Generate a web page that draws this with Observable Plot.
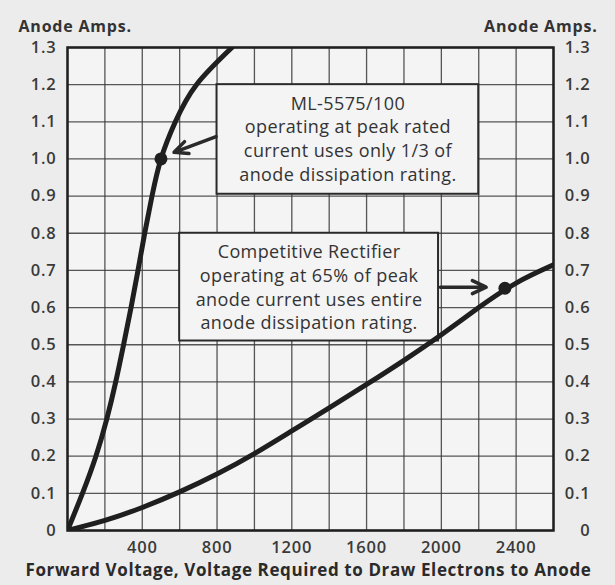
<!DOCTYPE html>
<html>
<head>
<meta charset="utf-8">
<script src="https://cdn.jsdelivr.net/npm/d3@7"></script>
<script src="https://cdn.jsdelivr.net/npm/@observablehq/plot@0.6"></script>
<style>
  html, body { margin: 0; padding: 0; background: #ececec; }
  svg text { letter-spacing: 0.8px; }
  svg .note text { letter-spacing: 0.4px; }
  svg .xtitle text { letter-spacing: 0.6px; }
</style>
</head>
<body>
<div id="chart"></div>
<script>
// ---- data ----
const mlVolts = [0, 80, 152, 210, 258, 300, 340, 377, 413, 452, 500, 577, 690, 880];
const mlAmps  = [0, 0.1, 0.2, 0.3, 0.4, 0.5, 0.6, 0.7, 0.8, 0.9, 1.0, 1.1, 1.2, 1.3];
const compVolts = [0, 200, 400, 600, 800, 1000, 1200, 1400, 1600, 1800, 2000, 2200, 2400, 2600];
const compAmps  = [0, 0.027, 0.062, 0.104, 0.152, 0.207, 0.268, 0.33, 0.393, 0.458, 0.527, 0.6, 0.666, 0.715];
const markerVolts = [500, 2340];
const markerAmps  = [1.0, 0.652];
const xTicks = [400, 800, 1200, 1600, 2000, 2400];
const xGrid = [0, 200, 400, 600, 800, 1000, 1200, 1400, 1600, 1800, 2000, 2200, 2400, 2600];
const yTicks = [0, 0.1, 0.2, 0.3, 0.4, 0.5, 0.6, 0.7, 0.8, 0.9, 1.0, 1.1, 1.2, 1.3];
const axisTitle = "Anode Amps.";
const xTitle = "Forward Voltage, Voltage Required to Draw Electrons to Anode";
const noteText = [
  "ML-5575/100\noperating at peak rated\ncurrent uses only 1/3 of\nanode dissipation rating.",
  "Competitive Rectifier\noperating at 65% of peak\nanode current uses entire\nanode dissipation rating."
];

// ---- derived tables ----
const ml = mlVolts.map((v, i) => ({v, a: mlAmps[i]}));
const comp = compVolts.map((v, i) => ({v, a: compAmps[i]}));
const markers = markerVolts.map((v, i) => ({v, a: markerAmps[i]}));
const boxes = [
  {x1: 800, x2: 2200, y1: 0.905, y2: 1.2, text: noteText[0]},
  {x1: 600, x2: 1985, y1: 0.51, y2: 0.8, text: noteText[1]}
];
const arrows = [
  {x1: 795, y1: 1.06, x2: 570, y2: 1.018},
  {x1: 1995, y1: 0.655, x2: 2240, y2: 0.655}
];

const fmt = d => d === 0 ? "0" : d.toFixed(1);
const ink = "#1f1f1f";
const font = "'Open Sans', 'DejaVu Sans', sans-serif";

const chart = Plot.plot({
  width: 615,
  height: 585,
  marginLeft: 67,
  marginRight: 62,
  marginTop: 47,
  marginBottom: 55,
  x: {domain: [0, 2600]},
  y: {domain: [0, 1.3]},
  style: {background: "#ececec", fontFamily: font, color: "#333"},
  marks: [
    Plot.frame({fill: "#f4f4f4", stroke: "none"}),
    Plot.gridX(xGrid, {stroke: "#3a3a3a", strokeOpacity: 0.85, strokeWidth: 1.3}),
    Plot.gridY(yTicks, {stroke: "#3a3a3a", strokeOpacity: 0.85, strokeWidth: 1.3}),
    Plot.rect(boxes, {x1: "x1", x2: "x2", y1: "y1", y2: "y2", fill: "#f4f4f4", stroke: "#2a2a2a", strokeWidth: 2}),
    Plot.text(boxes, {x: d => (d.x1 + d.x2) / 2, y: "y2", text: "text", lineAnchor: "top", dy: 8,
      lineHeight: 1.32, fontSize: 18, fill: "#333", className: "note"}),
    Plot.line(ml, {x: "v", y: "a", curve: "natural", stroke: ink, strokeWidth: 5, clip: true}),
    Plot.line(comp, {x: "v", y: "a", curve: "natural", stroke: ink, strokeWidth: 5, clip: true}),
    Plot.dot(markers, {x: "v", y: "a", r: 6.5, fill: ink}),
    Plot.arrow(arrows, {x1: "x1", y1: "y1", x2: "x2", y2: "y2", stroke: "#2a2a2a", strokeWidth: 3.5, headLength: 14, headAngle: 50}),
    Plot.frame({stroke: ink, strokeWidth: 2.5}),
    Plot.axisY(yTicks, {anchor: "left", tickSize: 0, tickPadding: 11, tickFormat: fmt, fontSize: 16.5, fontWeight: 600, label: null, fill: "#3a3a3a"}),
    Plot.axisY(yTicks, {anchor: "right", tickSize: 0, tickPadding: 37, textAnchor: "end", tickFormat: fmt, fontSize: 16.5, fontWeight: 600, label: null, fill: "#3a3a3a"}),
    Plot.axisX(xTicks, {anchor: "bottom", tickSize: 0, tickPadding: 11, tickFormat: d => String(d), fontSize: 16.5, fontWeight: 600, label: null, fill: "#3a3a3a"}),
    Plot.text([axisTitle], {frameAnchor: "top-left", textAnchor: "start", dx: -49, dy: -27, fontSize: 16, fontWeight: 700, fill: "#333"}),
    Plot.text([axisTitle], {frameAnchor: "top-right", textAnchor: "end", dx: 44, dy: -27, fontSize: 16, fontWeight: 700, fill: "#333"}),
    Plot.text([xTitle], {frameAnchor: "bottom", dy: 45, dx: -2, fontSize: 17, fontWeight: 700, fill: "#2a2a2a", className: "xtitle"})
  ]
});
document.getElementById("chart").appendChild(chart);
</script>
</body>
</html>
